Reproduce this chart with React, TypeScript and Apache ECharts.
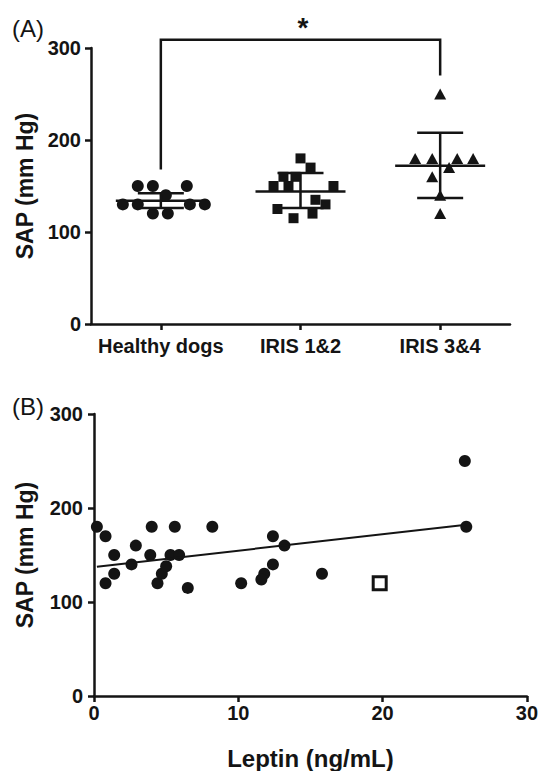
import React, { useEffect, useRef } from "react";
import * as echarts from "echarts";

// ---------- Panel A data ----------
const categories = ["Healthy dogs", "IRIS 1&2", "IRIS 3&4"];
const healthySAP = [150, 150, 150, 130, 130, 130, 130, 120, 120, 140];
const healthyJitter = [-0.165, -0.057, 0.186, -0.272, -0.165, 0.208, 0.315, -0.057, 0.05, 0.036];
const iris12SAP = [180, 170, 160, 160, 150, 150, 150, 135, 130, 125, 115, 120];
const iris12Jitter = [0, 0.072, -0.122, -0.036, -0.193, -0.086, 0.236, 0.107, 0.179, -0.165, -0.05, 0.086];
const iris34SAP = [250, 180, 180, 180, 180, 170, 160, 140, 120];
const iris34Jitter = [0, -0.179, -0.057, 0.122, 0.236, 0.064, -0.057, 0, 0];
const groupMean = [134, 144, 172];
const groupLow = [126, 126, 137];
const groupHigh = [142, 164, 208];
const bracketX = [0, 0, 2, 2];
const bracketY = [168, 309, 309, 270];
const yTicksA = [0, 100, 200, 300];

// ---------- Panel B data ----------
const leptin = [0.2, 0.8, 1.4, 0.8, 1.4, 2.9, 2.6, 4.0, 3.9, 4.4, 4.7, 5.0, 5.6, 5.3, 5.9, 6.5, 8.2, 10.2, 12.4, 12.4, 11.8, 11.6, 13.2, 15.8, 25.7, 25.8];
const sapB = [180, 170, 150, 120, 130, 160, 140, 180, 150, 120, 130, 138, 180, 150, 150, 115, 180, 120, 170, 140, 130, 124, 160, 130, 250, 180];
const outlierLeptin = [19.8];
const outlierSAP = [120];
const regX = [0.2, 25.8];
const regY = [137.6, 182.1];
const xTicksB = [0, 10, 20, 30];

const FONT = "'Liberation Sans', Arial, Helvetica, sans-serif";
const INK = "#141414";

export default function App() {
  const ref = useRef<HTMLDivElement>(null);
  useEffect(() => {
    if (!ref.current) return;
    const chart = echarts.init(ref.current, undefined, { renderer: "svg" });
    const axisLine = { show: true, onZero: false, lineStyle: { color: INK, width: 2.5 } };
    const axisTick = { show: true, length: 6, lineStyle: { color: INK, width: 2.5 } };
    const tickLabel = { color: INK, fontFamily: FONT, fontWeight: "bold" as const, fontSize: 20 };

    const groupPoints = (vals: number[], jit: number[], g: number) =>
      vals.map((v, i) => [g + jit[i], v]);

    const option: any = {
      animation: false,
      backgroundColor: "#fff",
      grid: [
        { left: 91, top: 48, width: 419, height: 276 },
        { left: 94, top: 414, width: 434, height: 290 },
      ],
      xAxis: [
        {
          gridIndex: 0,
          type: "category",
          data: categories,
          boundaryGap: true,
          axisLine,
          axisTick: { ...axisTick, alignWithLabel: true },
          axisLabel: { ...tickLabel, margin: 12, interval: 0 },
          splitLine: { show: false },
        },
        {
          gridIndex: 0,
          type: "value",
          min: -0.5,
          max: 2.5,
          show: false,
          axisLine: { show: false, onZero: false },
          splitLine: { show: false },
        },
        {
          gridIndex: 1,
          type: "value",
          min: 0,
          max: 30,
          interval: 10,
          axisLine,
          axisTick,
          axisLabel: { ...tickLabel, margin: 7, formatter: (v: number) => (xTicksB.includes(v) ? String(v) : "") },
          splitLine: { show: false },
          name: "Leptin (ng/mL)",
          nameLocation: "middle",
          nameGap: 50,
          nameTextStyle: { color: INK, fontFamily: FONT, fontWeight: "bold", fontSize: 24 },
        },
      ],
      yAxis: [
        {
          gridIndex: 0,
          type: "value",
          min: 0,
          max: 300,
          interval: 100,
          axisLine,
          axisTick,
          axisLabel: { ...tickLabel, margin: 10, formatter: (v: number) => (yTicksA.includes(v) ? String(v) : "") },
          splitLine: { show: false },
          name: "SAP (mm Hg)",
          nameLocation: "middle",
          nameGap: 55,
          nameTextStyle: { color: INK, fontFamily: FONT, fontWeight: "bold", fontSize: 23 },
        },
        {
          gridIndex: 1,
          type: "value",
          min: 0,
          max: 300,
          interval: 100,
          axisLine,
          axisTick,
          axisLabel: { ...tickLabel, margin: 11 },
          splitLine: { show: false },
          name: "SAP (mm Hg)",
          nameLocation: "middle",
          nameGap: 58,
          nameTextStyle: { color: INK, fontFamily: FONT, fontWeight: "bold", fontSize: 23 },
        },
      ],
      series: [
        {
          type: "scatter",
          xAxisIndex: 1,
          yAxisIndex: 0,
          symbol: "circle",
          symbolSize: 12,
          itemStyle: { color: INK, opacity: 1 },
          data: groupPoints(healthySAP, healthyJitter, 0),
        },
        {
          type: "scatter",
          xAxisIndex: 1,
          yAxisIndex: 0,
          symbol: "rect",
          symbolSize: 10,
          itemStyle: { color: INK, opacity: 1 },
          data: groupPoints(iris12SAP, iris12Jitter, 1),
        },
        {
          type: "scatter",
          xAxisIndex: 1,
          yAxisIndex: 0,
          symbol: "triangle",
          symbolSize: [12, 11],
          itemStyle: { color: INK, opacity: 1 },
          data: groupPoints(iris34SAP, iris34Jitter, 2),
        },
        {
          type: "custom",
          xAxisIndex: 1,
          yAxisIndex: 0,
          z: 5,
          encode: { x: 0, y: 1 },
          data: groupMean.map((m, i) => [i, m, groupLow[i], groupHigh[i]]),
          renderItem: (_p: any, api: any) => {
            const g = api.value(0);
            const pm = api.coord([g, api.value(1)]);
            const pl = api.coord([g, api.value(2)]);
            const ph = api.coord([g, api.value(3)]);
            const st = { stroke: INK, lineWidth: 2.5 };
            return {
              type: "group",
              children: [
                { type: "line", shape: { x1: pm[0] - 45, y1: pm[1], x2: pm[0] + 45, y2: pm[1] }, style: st },
                { type: "line", shape: { x1: ph[0], y1: ph[1], x2: pl[0], y2: pl[1] }, style: st },
                { type: "line", shape: { x1: ph[0] - 23, y1: ph[1], x2: ph[0] + 23, y2: ph[1] }, style: st },
                { type: "line", shape: { x1: pl[0] - 23, y1: pl[1], x2: pl[0] + 23, y2: pl[1] }, style: st },
              ],
            };
          },
        },
        {
          type: "custom",
          xAxisIndex: 1,
          yAxisIndex: 0,
          clip: false,
          z: 5,
          encode: { x: 0, y: 1 },
          data: bracketX.map((x, i) => [x, bracketY[i]]),
          renderItem: (p: any, api: any) => {
            if (p.dataIndex !== 0) return null;
            const pts = bracketX.map((x, i) => api.coord([x, bracketY[i]]));
            return {
              type: "polyline",
              shape: { points: pts },
              style: { stroke: INK, lineWidth: 2.5, fill: null },
            };
          },
        },
        {
          type: "scatter",
          xAxisIndex: 2,
          yAxisIndex: 1,
          symbol: "circle",
          symbolSize: 12,
          itemStyle: { color: INK, opacity: 1 },
          data: leptin.map((x, i) => [x, sapB[i]]),
        },
        {
          type: "scatter",
          xAxisIndex: 2,
          yAxisIndex: 1,
          symbol: "rect",
          symbolSize: 13,
          itemStyle: { color: "#fff", borderColor: INK, borderWidth: 3, opacity: 1 },
          data: outlierLeptin.map((x, i) => [x, outlierSAP[i]]),
        },
        {
          type: "line",
          xAxisIndex: 2,
          yAxisIndex: 1,
          symbol: "none",
          lineStyle: { color: INK, width: 2 },
          data: regX.map((x, i) => [x, regY[i]]),
        },
      ],
      graphic: [
        {
          type: "text",
          left: 12,
          top: 16,
          style: { text: "(A)", fill: INK, font: `24px ${FONT}` },
        },
        {
          type: "text",
          left: 12,
          top: 394,
          style: { text: "(B)", fill: INK, font: `24px ${FONT}` },
        },
        {
          type: "text",
          x: 303,
          y: 27,
          style: { text: "*", fill: INK, font: `bold 28px ${FONT}`, textAlign: "center", textVerticalAlign: "middle" },
        },
      ],
    };
    chart.setOption(option);
    return () => chart.dispose();
  }, []);
  return (
    <div
      ref={ref}
      style={{ position: "absolute", left: 0, top: 0, width: 541, height: 771, background: "#fff" }}
    />
  );
}
